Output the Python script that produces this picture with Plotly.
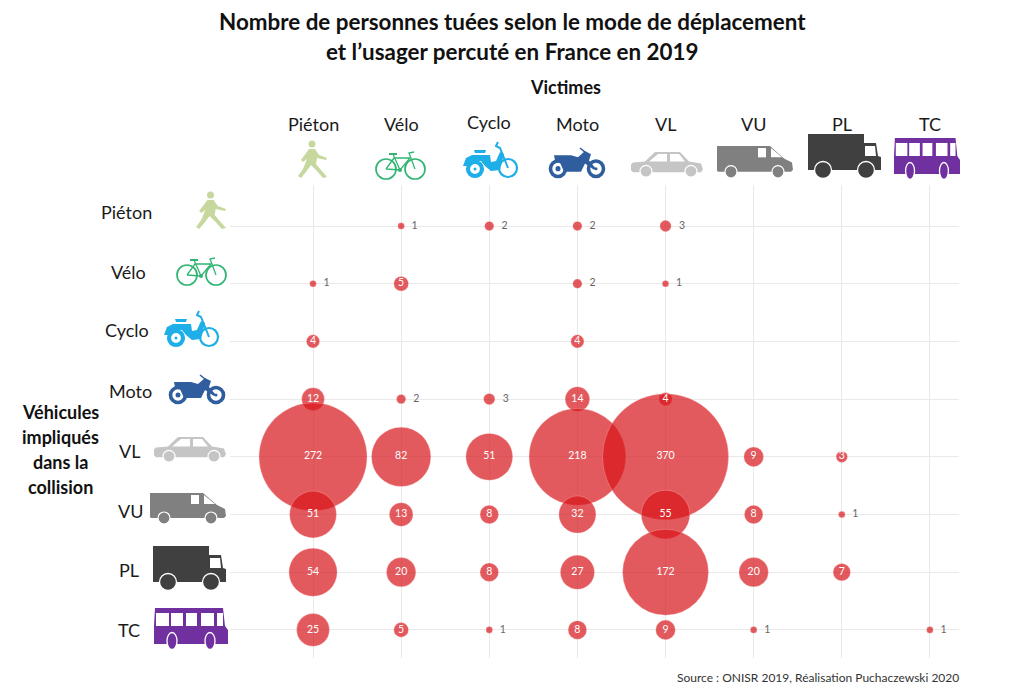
import math
import plotly.graph_objects as go

victims = ["Piéton", "Vélo", "Cyclo", "Moto", "VL", "VU", "PL", "TC"]
vehicles = ["Piéton", "Vélo", "Cyclo", "Moto", "VL", "VU", "PL", "TC"]
row_pieton = [None, 1, 2, 2, 3, None, None, None]
row_velo = [1, 5, None, 2, 1, None, None, None]
row_cyclo = [4, None, None, 4, None, None, None, None]
row_moto = [12, 2, 3, 14, 4, None, None, None]
row_vl = [272, 82, 51, 218, 370, 9, 3, None]
row_vu = [51, 13, 8, 32, 55, 8, 1, None]
row_pl = [54, 20, 8, 27, 172, 20, 7, None]
row_tc = [25, 5, 1, 8, 9, 1, None, 1]
rows = [row_pieton, row_velo, row_cyclo, row_moto, row_vl, row_vu, row_pl, row_tc]
title_lines = ["Nombre de personnes tuées selon le mode de déplacement",
               "et l’usager percuté en France en 2019"]
side_title = ["Véhicules", "impliqués", "dans la", "collision"]
source = "Source : ONISR 2019, Réalisation Puchaczewski 2020"

W, H = 1024, 692
L, R, T, B = 230, 959, 185, 658
FONT = "Lato"


def px(x):
    return (x - L) / (R - L)


def py(y):
    return 1 - (y - T) / (B - T)


shapes = []


def poly(box, scale, pts, fill, close=True, lw=0, stroke=None):
    ox, oy = box
    sx, sy = scale
    seg = [f"{'M' if i == 0 else 'L'}{px(ox + a * sx):.5f},{py(oy + b * sy):.5f}" for i, (a, b) in enumerate(pts)]
    path = " ".join(seg) + (" Z" if close else "")
    shapes.append(dict(type="path", xref="paper", yref="paper", path=path,
                       fillcolor=fill if close else "rgba(0,0,0,0)",
                       line=dict(width=lw, color=stroke or fill), layer="above"))


def circ(box, scale, cx, cy, rx, ry, fill, lw=0, stroke=None):
    ox, oy = box
    sx, sy = scale
    shapes.append(dict(type="circle", xref="paper", yref="paper",
                       x0=px(ox + (cx - rx) * sx), x1=px(ox + (cx + rx) * sx),
                       y0=py(oy + (cy - ry) * sy), y1=py(oy + (cy + ry) * sy),
                       fillcolor=fill, line=dict(width=lw, color=stroke or fill), layer="above"))


def line(box, scale, pts, color, lw):
    poly(box, scale, pts, color, close=False, lw=lw, stroke=color)


def icon_pieton(b, s):
    c = "#c6d89d"
    circ(b, s, 16, 4, 3.4, 3.6, c)
    poly(b, s, [(13, 9), (19, 9), (23, 15), (31, 18), (30, 20), (21, 18), (20, 24), (25, 30), (31, 37), (27, 38), (21, 31), (15, 25), (10, 32), (5, 38), (2, 36), (7, 29), (11, 19), (7, 22), (5, 20)], c)


def icon_velo(b, s):
    c = "#31b573"
    circ(b, s, 11, 19, 10, 10, "rgba(0,0,0,0)", 1.7, c)
    circ(b, s, 40, 19, 10, 10, "rgba(0,0,0,0)", 1.7, c)
    line(b, s, [(11, 19), (19, 8), (35, 8), (25, 20), (11, 19)], c, 1.3)
    line(b, s, [(18, 4), (25, 20)], c, 1.3)
    line(b, s, [(40, 19), (34, 3), (39, 2)], c, 1.3)
    line(b, s, [(14, 4), (22, 4)], c, 2)
    circ(b, s, 25, 20, 2, 2, c)


def icon_cyclo(b, s):
    c = "#1eaee8"
    circ(b, s, 45, 26, 9, 9, "rgba(0,0,0,0)", 2.2, c)
    poly(b, s, [(0, 24), (3, 16), (9, 13), (27, 13), (28, 20), (33, 19), (37, 10), (41, 12), (37, 28), (28, 29), (22, 24), (18, 19), (10, 19), (4, 24)], c)
    circ(b, s, 12, 27, 7, 7, "#ffffff", 4.2, c)
    circ(b, s, 12, 27, 1.5, 1.5, c)
    poly(b, s, [(11, 8), (23, 8), (22, 11), (12, 11)], c)
    line(b, s, [(45, 26), (37, 6), (33, 4), (35, 0)], c, 2)


def icon_moto(b, s):
    c = "#2f5d9e"
    circ(b, s, 11, 20, 7.5, 7.5, "#ffffff", 3.6, c)
    circ(b, s, 49, 20, 7.5, 7.5, "#ffffff", 3.6, c)
    circ(b, s, 11, 20, 2.5, 2.5, c)
    circ(b, s, 49, 20, 1.5, 1.5, c)
    poly(b, s, [(7, 7), (24, 7), (31, 9), (38, 3), (44, 6), (42, 12), (49, 20), (47, 21), (38, 15), (34, 23), (17, 23), (13, 14), (8, 12)], c)
    line(b, s, [(38, 4), (33, 0)], c, 1.5)


def icon_vl(b, s):
    c = "#c5c5c5"
    poly(b, s, [(0, 14), (2, 12), (14, 11), (24, 1), (49, 1), (58, 11), (70, 13), (72, 19), (70, 22), (2, 22), (0, 20)], c)
    poly(b, s, [(18, 11), (27, 3), (36, 3), (36, 11)], "#ffffff")
    poly(b, s, [(39, 3), (48, 3), (54, 11), (39, 11)], "#ffffff")
    circ(b, s, 15, 21, 6, 6, c, 1.2, "#ffffff")
    circ(b, s, 60, 21, 6, 6, c, 1.2, "#ffffff")


def icon_vu(b, s):
    c = "#808080"
    poly(b, s, [(0, 0), (53, 0), (67, 12), (75, 16), (76, 23), (74, 25), (1, 25), (0, 24)], c)
    poly(b, s, [(41, 2), (49, 2), (49, 11), (41, 11)], "#ffffff")
    poly(b, s, [(54, 2), (65, 11), (54, 11)], "#ffffff")
    circ(b, s, 14, 25, 6, 6, c, 1.2, "#ffffff")
    circ(b, s, 61, 25, 6, 6, c, 1.2, "#ffffff")


def icon_pl(b, s):
    c = "#404040"
    poly(b, s, [(0, 0), (56, 0), (56, 9), (68, 9), (70, 22), (73, 23), (73, 36), (0, 36)], c)
    poly(b, s, [(57, 12), (67, 12), (68, 22), (57, 22)], "#ffffff")
    circ(b, s, 15, 36, 8.5, 8.5, c, 1.3, "#ffffff")
    circ(b, s, 58, 36, 8.5, 8.5, c, 1.3, "#ffffff")


def icon_tc(b, s):
    c = "#7030a0"
    poly(b, s, [(1, 0), (69, 0), (71, 18), (74, 22), (74, 36), (0, 36), (0, 18)], c)
    for a, e in [(2, 15), (17, 29), (32, 43), (47, 60), (63, 69)]:
        poly(b, s, [(a, 5), (e, 5), (e, 18), (a, 18)], "#ffffff")
    circ(b, s, 18, 33, 5, 8.5, c, 1.3, "#ffffff")
    circ(b, s, 56, 33, 5, 8.5, c, 1.3, "#ffffff")


draw = [(icon_pieton, 32, 38), (icon_velo, 51, 30), (icon_cyclo, 57, 36), (icon_moto, 60, 29),
        (icon_vl, 72, 28), (icon_vu, 76, 31), (icon_pl, 73, 45), (icon_tc, 74, 42)]
col_boxes = [(296, 140, 328, 178), (375, 150, 426, 180), (463, 142, 520, 178), (547, 148, 607, 178),
             (631, 151, 703, 178), (717, 146, 793, 178), (808, 134, 881, 179), (894, 138, 960, 180)]
row_boxes = [(194, 191, 227, 229), (176, 256, 227, 286), (164, 311, 221, 347), (167, 375, 227, 404),
             (154, 436, 226, 463), (150, 493, 226, 524), (153, 546, 226, 591), (154, 608, 228, 650)]
for boxes in (col_boxes, row_boxes):
    for (fn, dw, dh), (x0, y0, x1, y1) in zip(draw, boxes):
        fn((x0, y0), ((x1 - x0) / dw, (y1 - y0) / dh))

COLOR = "rgba(215,20,25,0.70)"
inside = dict(x=[], y=[], v=[])
outside = dict(x=[], y=[], v=[])
for veh, row in zip(vehicles, rows):
    for vic, v in zip(victims, row):
        if v is None:
            continue
        tgt = outside if (v <= 3 and not (veh == "VL" and vic == "PL")) else inside
        tgt["x"].append(vic)
        tgt["y"].append(veh)
        tgt["v"].append(v)

SIZEREF = 2 / 6.55 ** 2
fig = go.Figure()
for d, pos, col, tmpl in [(inside, "middle center", "#ffffff", "%{text}"),
                          (outside, "middle right", "#666666", "\u00a0\u00a0%{text}")]:
    fig.add_trace(go.Scatter(
        x=d["x"], y=d["y"], text=d["v"], mode="markers+text",
        texttemplate=tmpl, textposition=pos, cliponaxis=False,
        textfont=dict(family=FONT, size=10.5, color=col),
        marker=dict(size=d["v"], sizemode="area", sizeref=SIZEREF, sizemin=1, color=COLOR, opacity=1,
                    line=dict(width=1, color="rgba(255,205,205,0.3)")),
        showlegend=False, hoverinfo="skip"))

LABEL_SIZE = 18
ann = []
col_label_y = [124, 124, 122, 124, 124, 124, 124, 124]
for i, (lab, yy) in enumerate(zip(victims, col_label_y)):
    ann.append(dict(text=lab, x=lab, xref="x", y=py(yy), yref="paper", showarrow=False,
                    xanchor="center", yanchor="middle", font=dict(family=FONT, size=LABEL_SIZE, color="#1a1a1a")))
row_label_x = [127, 128, 127, 130, 129, 130, 129, 129]
row_label_y = [212, 272, 330, 391, 451, 511, 570, 630]
for lab, xx, yy in zip(vehicles, row_label_x, row_label_y):
    ann.append(dict(text=lab, x=px(xx), xref="paper", y=py(yy), yref="paper", showarrow=False,
                    xanchor="center", yanchor="middle", font=dict(family=FONT, size=LABEL_SIZE, color="#1a1a1a")))
for t, yy in zip(side_title, [412, 437, 462, 487]):
    ann.append(dict(text=f"<b>{t}</b>", x=px(60), xref="paper", y=py(yy), yref="paper", showarrow=False,
                    xanchor="center", yanchor="middle", font=dict(family=FONT, size=18, color="#111111")))
for t, yy in zip(title_lines, [22, 52]):
    ann.append(dict(text=f"<b>{t}</b>", x=px(512), xref="paper", y=py(yy), yref="paper", showarrow=False,
                    xanchor="center", yanchor="middle", font=dict(family=FONT, size=22.4, color="#111111")))
ann.append(dict(text="<b>Victimes</b>", x=px(565), xref="paper", y=py(87), yref="paper", showarrow=False,
                xanchor="center", yanchor="middle", font=dict(family=FONT, size=18, color="#111111")))
ann.append(dict(text=source, x=px(961), xref="paper", y=py(677), yref="paper", showarrow=False,
                xanchor="right", yanchor="middle", font=dict(family=FONT, size=12, color="#333333")))

fig.update_layout(
    width=W, height=H, margin=dict(l=L, r=W - R, t=T, b=H - B, autoexpand=False),
    paper_bgcolor="white", plot_bgcolor="white",
    font=dict(family=FONT), shapes=shapes, annotations=ann,
    xaxis=dict(type="category", categoryorder="array", categoryarray=victims, range=[-0.942, 7.33],
               showgrid=True, gridcolor="#e9e9e9", gridwidth=1, zeroline=False, showticklabels=False,
               showline=False, ticks=""),
    yaxis=dict(type="category", categoryorder="array", categoryarray=vehicles, range=[7.487, -0.711],
               showgrid=True, gridcolor="#e9e9e9", gridwidth=1, zeroline=False, showticklabels=False,
               showline=False, ticks=""),
)
fig.write_html("out.html", post_script="document.body.style.margin='0';",
               config={"displayModeBar": False})
